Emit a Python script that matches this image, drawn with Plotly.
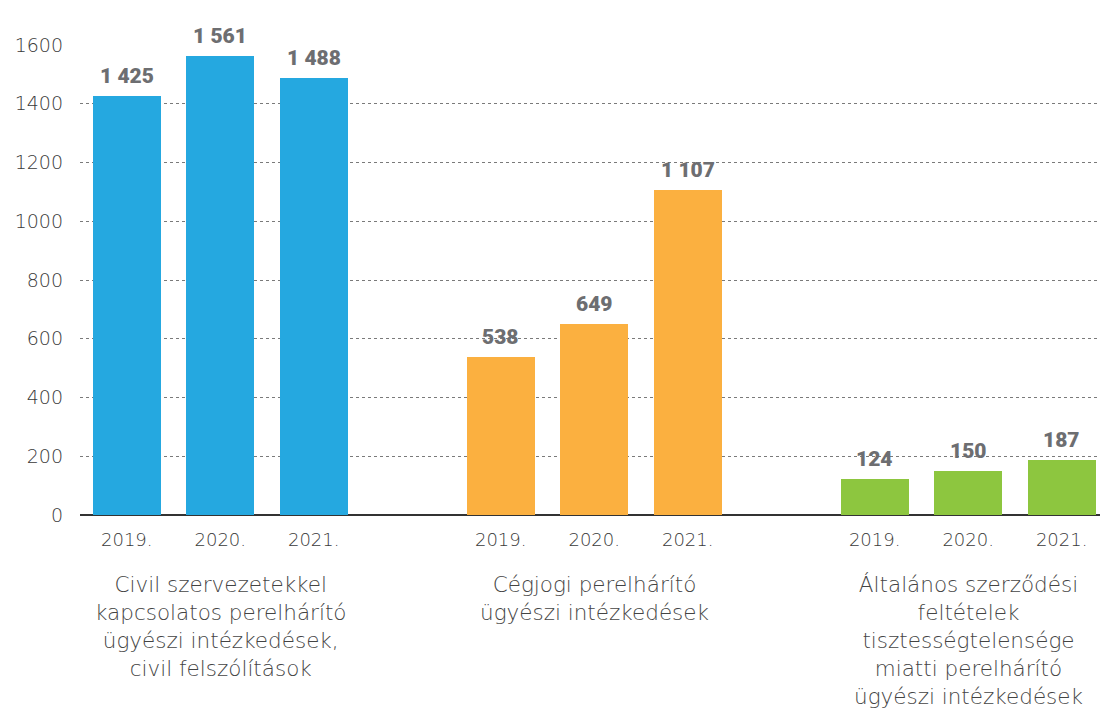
import plotly.graph_objects as go

years = ["2019.", "2020.", "2021."]
groups = [
    "Civil szervezetekkel<br>kapcsolatos perelhárító<br>ügyészi intézkedések,<br>civil felszólítások",
    "Cégjogi perelhárító<br>ügyészi intézkedések",
    "Általános szerződési<br>feltételek<br>tisztességtelensége<br>miatti perelhárító<br>ügyészi intézkedések",
]
civil = [1425, 1561, 1488]
cegjogi = [538, 649, 1107]
aszf = [124, 150, 187]
colors = ["#25A8E0", "#FBB040", "#8DC63F"]
y_ticks = [0, 200, 400, 600, 800, 1000, 1200, 1400, 1600]

series = [civil, cegjogi, aszf]

def fmt(v):
    return f"{v:,}".replace(",", " ")

LIGHT = "DejaVu Sans"

fig = go.Figure()
tickvals, ticktext = [], []
for g, vals in enumerate(series):
    xs = [g * 4 + i for i in range(len(years))]
    tickvals += xs
    ticktext += years
    fig.add_trace(go.Bar(
        x=xs, y=vals, width=0.727,
        marker=dict(color=colors[g], line=dict(width=0)),
        cliponaxis=False, showlegend=False, hoverinfo="y",
    ))
    for x, v in zip(xs, vals):
        fig.add_annotation(
            x=x, y=v, xref="x", yref="y", yanchor="bottom", yshift=6,
            text=fmt(v), showarrow=False,
            font=dict(family="Roboto", size=21, color="#6D6E71", weight=900),
        )
    fig.add_annotation(
        x=g * 4 + 1, y=0, xref="x", yref="paper", yanchor="top",
        yshift=-55, text=groups[g], showarrow=False, align="center",
        font=dict(family=LIGHT, size=21.5, color="#444444", weight=300),
    )

fig.update_layout(
    width=1100, height=713,
    margin=dict(l=80, r=0, t=45, b=198),
    plot_bgcolor="white", paper_bgcolor="white",
    bargap=0,
    xaxis=dict(range=[-0.5, 10.41], tickvals=tickvals, ticktext=ticktext,
               showgrid=False, zeroline=False, showline=False, ticks="",
               automargin=False, ticklabelstandoff=12,
               tickfont=dict(family=LIGHT, size=18, color="#3a3a3a", weight=300)),
    yaxis=dict(range=[0, 1600], tickvals=y_ticks, ticktext=[str(t) for t in y_ticks],
               showgrid=True, gridcolor="#7a7a7a", griddash="dot", gridwidth=1,
               zeroline=True, zerolinecolor="#333333", zerolinewidth=2,
               ticks="", ticklabelstandoff=16, automargin=False,
               tickfont=dict(family=LIGHT, size=19, color="#3a3a3a", weight=300)),
)

fig.write_html("out.html", config={"displayModeBar": False},
               post_script="document.body.style.margin='0';")
